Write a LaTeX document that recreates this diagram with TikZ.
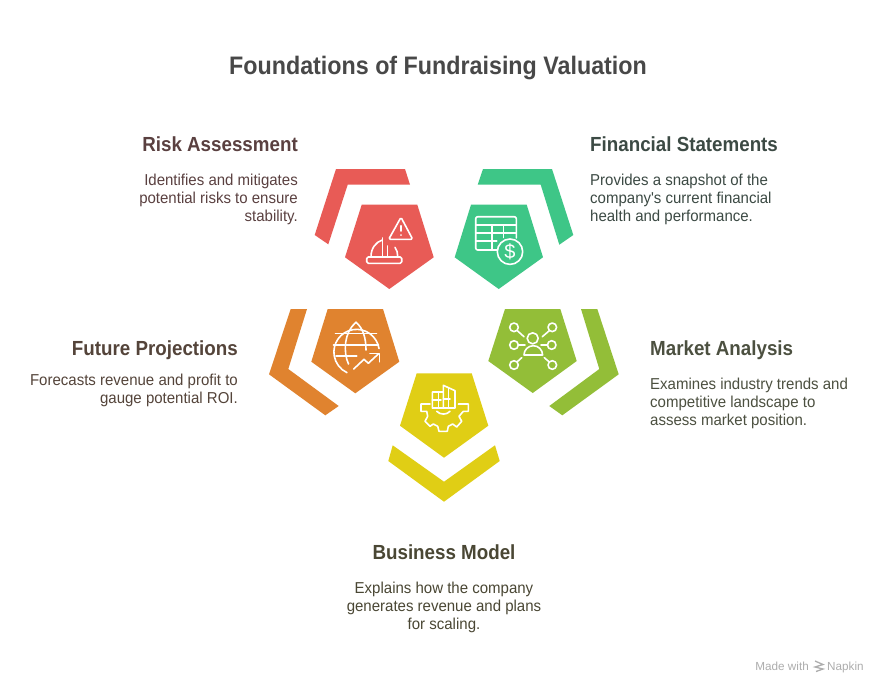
\documentclass[tikz,border=0pt]{standalone}
\usepackage{fontspec}
\setmainfont{Liberation Sans}
\newfontfamily\tightfont[FakeStretch=0.92]{Liberation Sans}
\newfontfamily\bodyfont[FakeStretch=0.95]{Liberation Sans}
\definecolor{cred}{HTML}{E85B56}
\definecolor{cgreen}{HTML}{3EC687}
\definecolor{corange}{HTML}{E0832F}
\definecolor{clime}{HTML}{93BE38}
\definecolor{cyellow}{HTML}{E0CE15}
\definecolor{ctitle}{HTML}{484848}
\definecolor{tred}{HTML}{5A4040}
\definecolor{tgreen}{HTML}{3C4A44}
\definecolor{torange}{HTML}{54443A}
\definecolor{tlime}{HTML}{4C5040}
\definecolor{tyellow}{HTML}{4A4734}
\tikzset{
 icon/.style={draw=white,line width=1.6pt,line cap=round,line join=round},
 headtext/.style={inner sep=0pt,font=\tightfont\fontsize{20.4}{24}\selectfont\bfseries},
 bodytext/.style={inner sep=0pt,font=\bodyfont\fontsize{15.8}{18}\selectfont},
}
\begin{document}
\begin{tikzpicture}[x=1pt,y=-1pt]
\useasboundingbox (0,0) rectangle (888,694);
\fill[white] (0,0) rectangle (888,694);
\node[inner sep=0pt,text=ctitle,anchor=base,font=\tightfont\fontsize{25.3}{28}\selectfont\bfseries] (title) at (438,74) {Foundations of Fundraising Valuation};
% shapes
\fill[cred] (336,169)--(405,169)--(410,184.7)--(347.7,184.7)--(328.3,244.3)--(314.7,235)--cycle;
\fill[cred] (361.7,204.7)--(417.3,204.7)--(433.7,257.3)--(389.3,289)--(345,257.3)--cycle;
\fill[cgreen] (483,169)--(552,169)--(573.3,235)--(559.3,244.7)--(540.7,184.7)--(477.7,184.7)--cycle;
\fill[cgreen] (471,204.7)--(526.7,204.7)--(543,257.3)--(498.7,289)--(454.7,257.3)--cycle;
\fill[corange] (290.7,309)--(307,309)--(288.3,369)--(338.7,406)--(325.3,415.3)--(269,374.3)--cycle;
\fill[corange] (327.7,309)--(383,309)--(399.3,361.7)--(355.3,393.3)--(311.3,361.7)--cycle;
\fill[clime] (581,309)--(597.3,309)--(618.7,374.3)--(562.3,415.3)--(549.3,406)--(599.3,369)--cycle;
\fill[clime] (505,309)--(560.3,309)--(576.7,361)--(532.7,393)--(488.3,361)--cycle;
\fill[cyellow] (416.7,373.3)--(471.7,373.3)--(488.3,425.7)--(444,457.7)--(400,425.7)--cycle;
\fill[cyellow] (392.7,445.3)--(444,481.7)--(495,445.3)--(499.7,461)--(444,501.7)--(388.3,461)--cycle;
% risk icon
\draw[icon,rounded corners=1.5pt] (401,217.3)--(412.7,239.3)--(388.7,239.3)--cycle;
\draw[icon] (401,225.7)--(401,231) (401,235)--(401,235.1);
\draw[icon,rounded corners=1.5pt] (366.7,257)rectangle(401.7,263.3);
\draw[icon] (371,256.7) .. controls (371,248) and (376,242) .. (382.3,240);
\draw[icon] (382.3,238)--(382.3,256.7) (387.3,246)--(387.3,256.7);
\draw[icon] (395,247.3) .. controls (397,250) and (397.7,253) .. (397.7,256.7);
% financial icon
\draw[icon,rounded corners=2pt] (496.7,250)--(475.7,250)--(475.7,216.7)--(516.3,216.7)--(516.3,238);
\draw[icon] (475.7,225)--(516.3,225) (475.7,232.7)--(516.3,232.7) (475.7,241)--(496.7,241) (491.7,225)--(491.7,250) (503.3,225)--(503.3,237.5);
\draw[icon] (510,251.7) circle (12.7);
\node[inner sep=0pt,text=white,font=\fontsize{20}{22}\selectfont] (dollar) at (510,251.7) {\$};
% globe icon
\draw[icon] (379,348.5) arc[start angle=9,end angle=245,x radius=22.7,y radius=-22.7];
\draw[icon] (335.5,333.3)--(376.5,333.3) (333.5,345)--(378.5,345) (336,356)--(356.7,356);
\draw[icon] (356,322.3) .. controls (344,332) and (343,352) .. (348.5,364);
\draw[icon] (356,322.3) .. controls (363,328) and (366,338) .. (366,350);
\draw[icon] (353.7,369)--(364,359.3)--(368.3,363.3)--(378.3,354);
\draw[icon] (370,353.3)--(379.3,353.3)--(379.3,361.7);
% market icon
\draw[icon] (532.7,338.3) circle (5.5);
\draw[icon] (524,355) arc[start angle=180,end angle=0,x radius=9.3,y radius=-9.3]--cycle;
\foreach \cx/\cy in {514/327.3,552.3/327.3,514/345,551.7/345,514/365,552.3/365}{\draw[icon] (\cx,\cy) circle (4.3);}
\draw[icon] (517.3,330.7)--(524,336.7) (549.3,330.7)--(542.3,336.7) (518.3,345)--(525,345) (541,345)--(547.7,345) (517.3,361.7)--(521.7,357.7) (544.3,357.7)--(549,361.7);
% business icon
\draw[icon] (443.3,392)--(432.3,392)--(432.3,408)--(455,408)--(455,390.7)--(443.3,385.3)--(443.3,408);
\draw[icon] (432.3,399.7)--(441,399.7) (438.3,392)--(438.3,408) (443.3,398.7)--(450,398.7) (448.3,388)--(448.3,408);
\draw[icon] (436.7,411.3) .. controls (440,415) and (447,415) .. (450,411.3);
\draw[icon] (430,404)--(421,404)--(421,411.3)--(426.7,411.3)--(427.7,416.3)--(425,421.3)--(430,426.3)--(433.3,424)--(437.7,426.3)--(439,431.3)--(447.3,431.3)--(448.3,426.3)--(452.7,424)--(456.7,427)--(461.7,421.3)--(459,416.3)--(463.3,411.3)--(468.3,411.3)--(468.3,404)--(458.3,404);
% text
\node[headtext,text=tred,anchor=base east] (h1) at (298,151) {Risk Assessment};
\node[bodytext,text=tred,anchor=north east,align=right] (b1) at (298,174) {Identifies and mitigates\\potential risks to ensure\\stability.};
\node[headtext,text=tgreen,anchor=base west] (h2) at (590,151) {Financial Statements};
\node[bodytext,text=tgreen,anchor=north west,align=left] (b2) at (590,174) {Provides a snapshot of the\\company's current financial\\health and performance.};
\node[headtext,text=torange,anchor=base east] (h3) at (238,355) {Future Projections};
\node[bodytext,text=torange,anchor=north east,align=right] (b3) at (238,374) {Forecasts revenue and profit to\\gauge potential ROI.};
\node[headtext,text=tlime,anchor=base west] (h4) at (650,355) {Market Analysis};
\node[bodytext,text=tlime,anchor=north west,align=left] (b4) at (650,378) {Examines industry trends and\\competitive landscape to\\assess market position.};
\node[headtext,text=tyellow,anchor=base] (h5) at (444,559) {Business Model};
\node[bodytext,text=tyellow,anchor=north,align=center] (b5) at (444,582) {Explains how the company\\generates revenue and plans\\for scaling.};
% watermark
\node[inner sep=0pt,text=black!32,font=\fontsize{11.7}{13}\selectfont,anchor=base east] (m1) at (809,670) {Made with};
\node[inner sep=0pt,text=black!32,font=\fontsize{11.7}{13}\selectfont,anchor=base west] (m2) at (827,670) {Napkin};
\draw[black!32,line width=1.3pt] (815,661)--(823,664.5)--(815,667)--(823,669)--(816,671.5);
\end{tikzpicture}
\end{document}
